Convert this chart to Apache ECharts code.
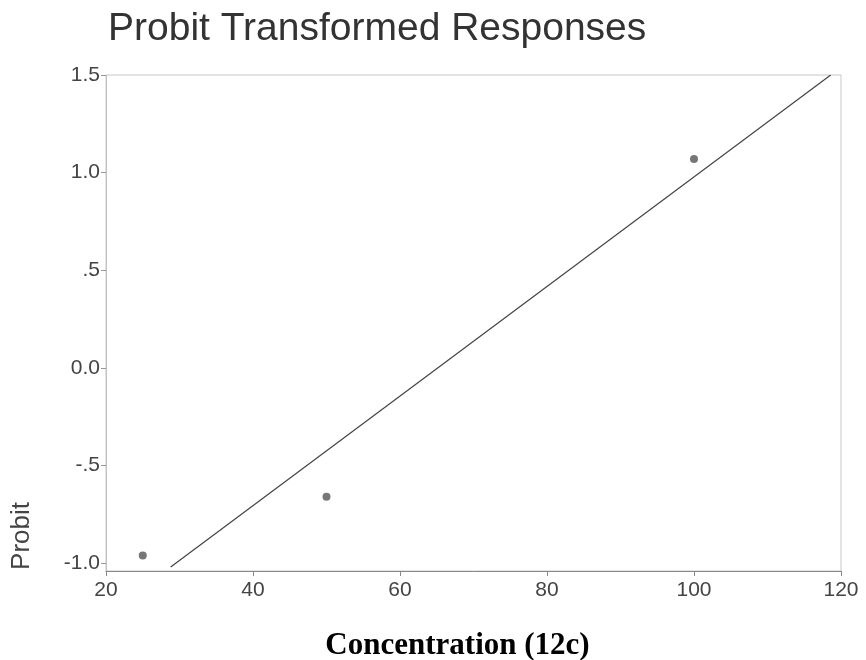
<!DOCTYPE html>
<html>
<head>
<meta charset="utf-8">
<script src="https://cdn.jsdelivr.net/npm/echarts@6/dist/echarts.min.js"></script>
<style>
html, body { margin: 0; padding: 0; background: #fff; }
#main { width: 866px; height: 660px; }
</style>
</head>
<body>
<div id="main"></div>
<script>
// observed points
var concentration = [25, 50, 100]
var probit = [-0.96, -0.66, 1.07]
// fitted probit line (end points)
var fitX = [28.8, 118.6]
var fitY = [-1.02, 1.5]
// y tick positions and their labels
var yTicks = [-1, -0.5, 0, 0.5, 1, 1.5]
var yTickLabels = ['-1.0', '-.5', '0.0', '.5', '1.0', '1.5']

var points = []
for (let i = 0; i < concentration.length; i++) {
    points.push([concentration[i], probit[i]])
}
var fitLine = []
for (let i = 0; i < fitX.length; i++) {
    fitLine.push([fitX[i], fitY[i]])
}

var mCharts = echarts.init(document.getElementById('main'))
var option = {
    animation: false,
    title: {
        text: 'Probit Transformed Responses',
        left: 103,
        top: 5,
        textStyle: {
            fontFamily: 'Liberation Sans',
            fontWeight: 'normal',
            fontSize: 39,
            color: '#333'
        }
    },
    grid: {
        left: 106,
        right: 25,
        top: 75,
        bottom: 89,
        outerBoundsMode: 'none',
        containLabel: false,
        show: true,
        borderColor: '#c8c8c8',
        borderWidth: 1
    },
    xAxis: {
        type: 'value',
        min: 20,
        max: 120,
        interval: 20,
        name: 'Concentration (12c)',
        nameLocation: 'middle',
        nameGap: 59,
        nameTextStyle: {
            fontFamily: 'Liberation Serif',
            fontWeight: 'bold',
            fontSize: 31,
            color: '#000',
            padding: [0, 32, 0, 0]
        },
        splitLine: { show: false },
        axisLine: { onZero: false, lineStyle: { color: '#888', width: 1 } },
        axisTick: { length: 5, lineStyle: { color: '#888' } },
        axisLabel: {
            fontFamily: 'Liberation Sans',
            fontSize: 21,
            color: '#444',
            margin: 9
        }
    },
    yAxis: {
        type: 'value',
        min: -1.04,
        max: 1.5,
        splitLine: { show: false },
        axisLine: { show: true, onZero: false, lineStyle: { color: '#c0c0c0', width: 1 } },
        axisTick: { show: true, length: 5, customValues: yTicks, lineStyle: { color: '#999' } },
        axisLabel: {
            customValues: yTicks,
            fontFamily: 'Liberation Sans',
            fontSize: 21,
            color: '#444',
            margin: 6,
            formatter: function (v) {
                for (let i = 0; i < yTicks.length; i++) {
                    if (Math.abs(yTicks[i] - v) < 1e-6) return yTickLabels[i]
                }
                return ''
            }
        }
    },
    graphic: [
        {
            type: 'text',
            left: 9,
            top: 502,
            rotation: Math.PI / 2,
            style: {
                text: 'Probit',
                fontFamily: 'Liberation Sans',
                fontSize: 26,
                fill: '#444'
            }
        }
    ],
    series: [
        {
            type: 'line',
            data: fitLine,
            symbol: 'none',
            lineStyle: { color: '#444', width: 1.2 },
            z: 2
        },
        {
            type: 'scatter',
            data: points,
            symbol: 'circle',
            symbolSize: 8,
            itemStyle: { color: '#555' },
            z: 3
        }
    ]
}
mCharts.setOption(option)
</script>
</body>
</html>
